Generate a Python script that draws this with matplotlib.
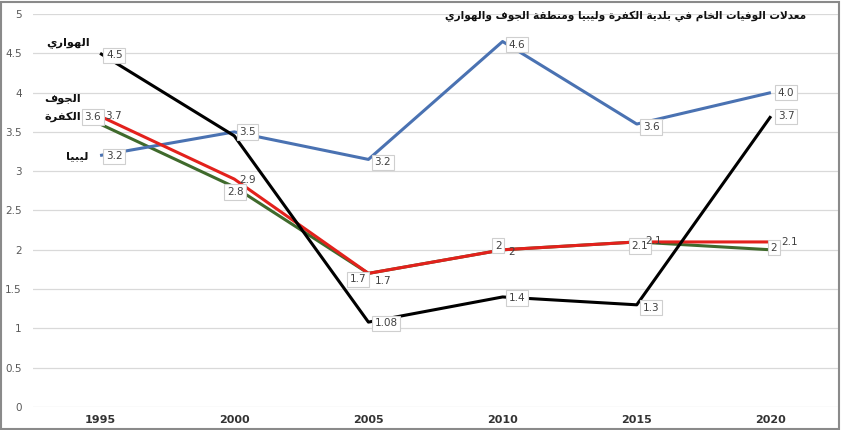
import matplotlib
matplotlib.use("Agg")
import matplotlib.pyplot as plt
from matplotlib.patches import Rectangle

# ---------------- data ----------------
years = ['1995', '2000', '2005', '2010', '2015', '2020']
libya = [3.2, 3.5, 3.15, 4.65, 3.6, 4.0]
libya_labels = ['3.2', '3.5', '3.2', '4.6', '3.6', '4.0']
hawari = [4.5, 3.45, 1.08, 1.4, 1.3, 3.7]
hawari_labels = ['4.5', '', '1.08', '1.4', '1.3', '3.7']
kufra = [3.7, 2.9, 1.7, 2.0, 2.1, 2.1]
kufra_labels = ['3.7', '2.9', '1.7', '2', '2.1', '2.1']
jawf = [3.6, 2.8, 1.7, 2.0, 2.1, 2.0]
jawf_labels = ['3.6', '2.8', '1.7', '2', '2.1', '2']
y_ticks = [0, 0.5, 1, 1.5, 2, 2.5, 3, 3.5, 4, 4.5, 5]
y_tick_labels = ['0', '0.5', '1', '1.5', '2', '2.5', '3', '3.5', '4', '4.5', '5']

title = 'معدلات الوفيات الخام في بلدية الكفرة وليبيا ومنطقة الجوف والهواري'
name_hawari = 'الهواري'
name_jawf = 'الجوف'
name_kufra = 'الكفرة'
name_libya = 'ليبيا'

# ------------- minimal Arabic shaping (presentation forms + visual order) -------------
FORMS = {
    '\u0627': ('\uFE8D', '\uFE8E', None, None),
    '\u0628': ('\uFE8F', '\uFE90', '\uFE91', '\uFE92'),
    '\u0629': ('\uFE93', '\uFE94', None, None),
    '\u062A': ('\uFE95', '\uFE96', '\uFE97', '\uFE98'),
    '\u062C': ('\uFE9D', '\uFE9E', '\uFE9F', '\uFEA0'),
    '\u062E': ('\uFEA5', '\uFEA6', '\uFEA7', '\uFEA8'),
    '\u062F': ('\uFEA9', '\uFEAA', None, None),
    '\u0631': ('\uFEAD', '\uFEAE', None, None),
    '\u0637': ('\uFEC1', '\uFEC2', '\uFEC3', '\uFEC4'),
    '\u0639': ('\uFEC9', '\uFECA', '\uFECB', '\uFECC'),
    '\u0641': ('\uFED1', '\uFED2', '\uFED3', '\uFED4'),
    '\u0642': ('\uFED5', '\uFED6', '\uFED7', '\uFED8'),
    '\u0643': ('\uFED9', '\uFEDA', '\uFEDB', '\uFEDC'),
    '\u0644': ('\uFEDD', '\uFEDE', '\uFEDF', '\uFEE0'),
    '\u0645': ('\uFEE1', '\uFEE2', '\uFEE3', '\uFEE4'),
    '\u0646': ('\uFEE5', '\uFEE6', '\uFEE7', '\uFEE8'),
    '\u0647': ('\uFEE9', '\uFEEA', '\uFEEB', '\uFEEC'),
    '\u0648': ('\uFEED', '\uFEEE', None, None),
    '\u064A': ('\uFEF1', '\uFEF2', '\uFEF3', '\uFEF4'),
}


def shape(text):
    chars = list(text)
    n = len(chars)
    out = []

    def dual(c):
        return c in FORMS and FORMS[c][2] is not None

    i = 0
    while i < n:
        c = chars[i]
        if c not in FORMS:
            out.append(c)
            i += 1
            continue
        prev = chars[i - 1] if i > 0 else None
        jp = prev is not None and dual(prev)
        if c == '\u0644' and i + 1 < n and chars[i + 1] == '\u0627':
            out.append('\uFEFC' if jp else '\uFEFB')
            i += 2
            continue
        nxt = chars[i + 1] if i + 1 < n else None
        jn = dual(c) and nxt is not None and nxt in FORMS
        iso, fin, ini, med = FORMS[c]
        if jp and jn:
            out.append(med)
        elif jp:
            out.append(fin)
        elif jn:
            out.append(ini)
        else:
            out.append(iso)
        i += 1
    return ''.join(reversed(out))


# ---------------- figure ----------------
W, H = 841, 430
fig = plt.figure(figsize=(W / 100, H / 100), dpi=100)
ax = fig.add_axes([33 / W, 1 - 407 / H, (838 - 33) / W, (407 - 14) / H])

x = list(range(len(years)))
BLUE = '#4a72b2'
RED = '#e3211c'
GREEN = '#3f6a2c'
BLACK = '#000000'
LW = 2.2

ax.plot(x, jawf, color=GREEN, lw=LW, zorder=3, solid_capstyle='butt')
ax.plot(x, kufra, color=RED, lw=LW, zorder=4, solid_capstyle='butt')
ax.plot(x, libya, color=BLUE, lw=LW, zorder=3, solid_capstyle='butt')
ax.plot(x, hawari, color=BLACK, lw=LW, zorder=5, solid_capstyle='butt')

ax.set_xlim(-0.5, 5.5)
ax.set_ylim(0, 5)
ax.set_yticks(y_ticks)
ax.set_yticklabels(y_tick_labels)
ax.set_xticks(x)
ax.set_xticklabels(years)
ax.grid(axis='y', color='#d9d9d9', lw=0.9)
ax.set_axisbelow(True)
for s in ax.spines.values():
    s.set_visible(False)
ax.tick_params(axis='both', length=0)
ax.tick_params(axis='y', labelsize=7.5, labelcolor='#595959', pad=8)
ax.tick_params(axis='x', labelsize=8, labelcolor='#333333', pad=6)
for t in ax.get_xticklabels():
    t.set_fontweight('bold')

box = dict(boxstyle='square,pad=0.25', fc='white', ec='#cfcfcf', lw=0.8)
LBL = dict(fontsize=7.5, color='#404040', va='center', zorder=6)


def labels(vals, texts, offsets, boxed, has):
    for xi, v, t, (dx, dy), b, h in zip(x, vals, texts, offsets, boxed, has):
        if not t:
            continue
        ax.annotate(t, (xi, v), xytext=(dx, dy), textcoords='offset pixels',
                    ha=h, bbox=box if b else None, **LBL)


labels(libya, libya_labels,
       [(6, -1), (5, 0), (6, -3), (6, -3), (6, -3), (7, 0)],
       [True] * 6, ['left'] * 6)
labels(hawari, hawari_labels,
       [(6, -2), (0, 0), (6, -1), (6, -1), (6, -3), (7, 0)],
       [True] * 6, ['left'] * 6)
labels(jawf, jawf_labels,
       [(1, 7), (1, -5), (-2, -6), (-1, 4), (3, -4), (3, 2)],
       [True] * 6, ['right', 'center', 'right', 'right', 'center', 'center'])
labels(kufra, kufra_labels,
       [(5, 0), (5, -1), (6, -8), (6, -2), (8, 1), (10, 0)],
       [False] * 6, ['left'] * 6)

# series names at the left
NAME = dict(fontsize=8.2, fontweight='bold', color='#111111', ha='right', va='center',
            family=['DejaVu Sans'])


def fig_text(px, py, s, **kw):
    fig.text(px / W, 1 - py / H, shape(s), **kw)


fig_text(90, 43, name_hawari, **NAME)
fig_text(81, 99, name_jawf, **NAME)
fig_text(81, 117, name_kufra, **NAME)
fig_text(88, 156, name_libya, **NAME)

# title
fig_text(806, 16, title, fontsize=7.6, fontweight='bold', color='#111111',
         ha='right', va='center', family=['DejaVu Sans'])

# figure border
fig.patches.append(Rectangle((1 / W, 1 / H), 1 - 3 / W, 1 - 3 / H, transform=fig.transFigure,
                             fill=False, ec='#8a8a8a', lw=1.5, zorder=10))

fig.savefig('out.png', dpi=100)
